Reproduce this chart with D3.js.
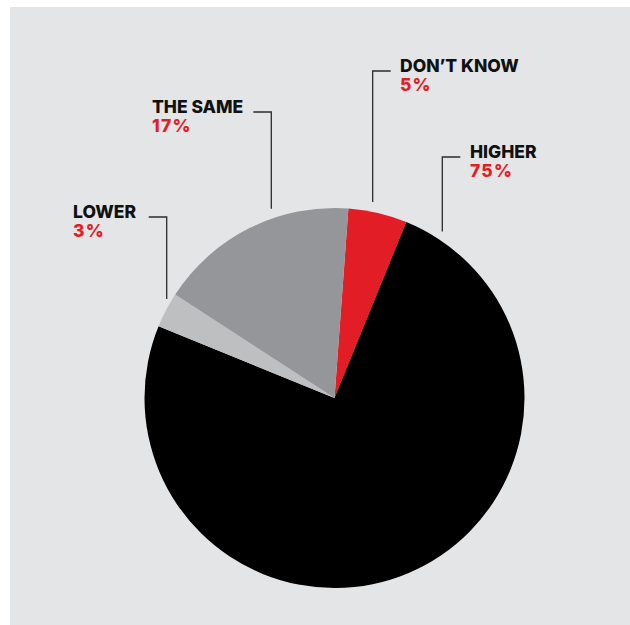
<!DOCTYPE html>
<html>
<head>
<meta charset="utf-8">
<script src="https://cdn.jsdelivr.net/npm/d3@7/dist/d3.min.js"></script>
<style>
  html, body { margin: 0; padding: 0; background: #ffffff; }
  svg { display: block; }
</style>
</head>
<body>
<svg id="chart" width="630" height="625"></svg>
<script>
// Survey answers, in the order they run clockwise round the pie
const categories = ["DON\u2019T KNOW", "HIGHER", "LOWER", "THE SAME"];
const shares = [5, 75, 3, 17];
const pctLabels = ["5%", "75%", "3%", "17%"];
const sliceColors = ["#e31d25", "#000000", "#bebfc1", "#959699"];

// Callout layout: where each name sits and where its leader drops
const callouts = [
  { side: "right", textX: 400, baseY: 72,  lineX: 372.7 },
  { side: "right", textX: 470, baseY: 158, lineX: 442.3 },
  { side: "left",  textX: 73,  baseY: 218, lineX: 166.7 },
  { side: "left",  textX: 152, baseY: 113, lineX: 271.3 }
];

const W = 630, H = 625;
const cx = 334.5, cy = 398, R = 190;
const startDeg = 4.2;

const svg = d3.select("#chart");

svg.append("rect")
  .attr("x", 10).attr("y", 7)
  .attr("width", W - 10).attr("height", H - 7)
  .attr("fill", "#e4e5e6");

const pie = d3.pie()
  .sort(null)
  .value(d => d)
  .startAngle(startDeg * Math.PI / 180)
  .endAngle(startDeg * Math.PI / 180 + 2 * Math.PI);

const arc = d3.arc().innerRadius(0).outerRadius(R);

const g = svg.append("g").attr("transform", `translate(${cx},${cy})`);
g.selectAll("path")
  .data(pie(shares))
  .join("path")
  .attr("d", arc)
  .attr("fill", (d, i) => sliceColors[i]);

const font = "Inter, 'Open Sans', 'DejaVu Sans', sans-serif";
const labels = svg.append("g");

categories.forEach((name, i) => {
  const c = callouts[i];
  labels.append("text")
    .attr("x", c.textX).attr("y", c.baseY)
    .attr("font-family", font)
    .attr("font-weight", 800)
    .attr("font-size", 17.5)
    .attr("fill", "#111111")
    .text(name);

  labels.append("text")
    .attr("x", c.textX).attr("y", c.baseY + 19)
    .attr("font-family", font)
    .attr("font-weight", 800)
    .attr("font-size", 17.5)
    .attr("letter-spacing", 1.2)
    .attr("fill", "#e31d25")
    .text(pctLabels[i]);

  // leader: short horizontal tick beside the name, then a drop towards the pie
  const hy = c.baseY - 1;
  const dx = c.lineX - cx;
  const edgeY = cy - Math.sqrt(R * R - dx * dx);
  const endY = edgeY - 10;
  const hx = c.side === "right" ? c.lineX + 18 : c.lineX - 18;

  labels.append("path")
    .attr("d", `M${hx},${hy}H${c.lineX}V${endY}`)
    .attr("fill", "none")
    .attr("stroke", "#2b2b2b")
    .attr("stroke-width", 1.3);
});
</script>
</body>
</html>
